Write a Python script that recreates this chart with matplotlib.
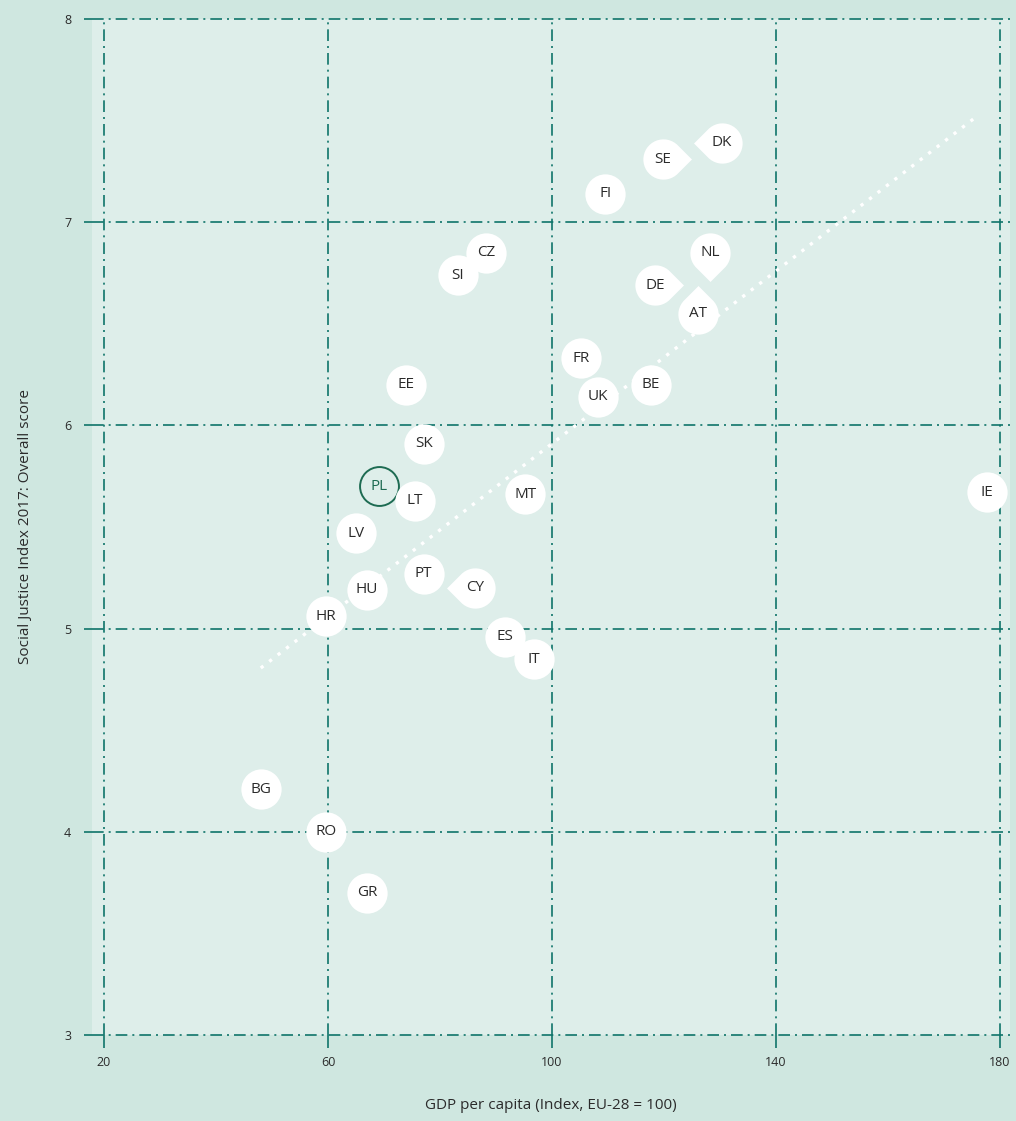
import matplotlib.pyplot as plt
import numpy as np
from matplotlib.path import Path
from matplotlib.markers import MarkerStyle

# -----------------------------
# Data
# -----------------------------
countries = ["DK", "SE", "FI", "CZ", "SI", "NL", "DE", "AT", "FR", "UK", "BE",
             "EE", "SK", "PL", "LT", "MT", "IE", "LV", "PT", "CY", "HU", "HR",
             "ES", "IT", "BG", "RO", "GR"]
gdp = [130.4, 119.8, 109.5, 88.2, 83.2, 128.2, 118.4, 126.1, 105.2, 108.2, 117.7,
       73.9, 77.1, 69.1, 75.5, 95.2, 177.7, 65.0, 77.1, 86.3, 67.0, 59.6,
       91.6, 96.8, 48.0, 59.6, 67.0]
sji = [7.39, 7.31, 7.14, 6.85, 6.74, 6.85, 6.69, 6.55, 6.33, 6.14, 6.20,
       6.20, 5.91, 5.70, 5.63, 5.66, 5.67, 5.47, 5.27, 5.20, 5.19, 5.06,
       4.96, 4.85, 4.21, 4.00, 3.70]
# label bubble pointer direction ('' = plain circle)
pointer = ["<", ">", "", "", "", "v", ">", "^", "", "", "",
           "", "", "", "", "", "", "", "", "<", "", "",
           "", "", "", "", ""]
highlight = "PL"

# trend line end points
trend_x = [48.0, 175.5]
trend_y = [4.806, 7.513]

x_ticks = [20, 60, 100, 140, 180]
y_ticks = [3, 4, 5, 6, 7, 8]

# -----------------------------
# Styles
# -----------------------------
bg_outer = "#cfe7e0"
bg_inner = "#deeeea"
grid_col = "#0f746a"
text_col = "#2b2b2b"
pl_col = "#1d6b52"
plt.rcParams['font.family'] = ['Open Sans', 'DejaVu Sans']


def teardrop(direction):
    # circle with a pointed corner, tip pointing right, then rotated
    tip = np.sqrt(2)
    arc = Path.arc(45, 315)
    verts = [(tip, 0.0)] + list(arc.vertices) + [(tip, 0.0), (tip, 0.0)]
    codes = [Path.MOVETO, Path.LINETO] + list(arc.codes[1:]) + [Path.LINETO, Path.CLOSEPOLY]
    path = Path(verts, codes)
    rot = {">": 0, "^": 90, "<": 180, "v": 270}[direction]
    return MarkerStyle(path).rotated(deg=rot)


fig = plt.figure(figsize=(10.16, 11.21), dpi=100, facecolor=bg_outer)
ax = fig.add_axes([92 / 1016, 86 / 1121, 918 / 1016, 1016 / 1121])
ax.set_facecolor(bg_inner)

ax.set_xlim(17.86, 181.8)
ax.set_ylim(3, 8)
ax.set_xticks(x_ticks)
ax.set_yticks(y_ticks)
for s in ax.spines.values():
    s.set_visible(False)

ax.grid(True, color=grid_col, linewidth=1.2, linestyle=(0, (7, 3, 1.2, 3)), zorder=1)
for gl in ax.get_xgridlines() + ax.get_ygridlines():
    gl.set_clip_on(False)
ax.set_axisbelow(True)
ax.tick_params(width=1.2, color=grid_col, labelsize=9, labelcolor=text_col)
ax.tick_params(axis='x', length=9, pad=6)
ax.tick_params(axis='y', length=6, pad=9)

# trend line
ax.plot(trend_x, trend_y, color="white", linewidth=2.4, linestyle=(0, (1, 2.2)),
        zorder=2)

# bubbles
msize = 29
for name, x, y, p in zip(countries, gdp, sji, pointer):
    if name == highlight:
        ax.plot(x, y, marker='o', markersize=msize - 1, markerfacecolor=bg_inner,
                markeredgecolor=pl_col, markeredgewidth=1.4, zorder=3)
        ax.text(x, y, name, ha='center', va='center', fontsize=11,
                color=pl_col, zorder=4)
        continue
    if p:
        ax.plot(x, y, marker=teardrop(p), markersize=msize * np.sqrt(2),
                markerfacecolor="white", markeredgewidth=0, zorder=3)
    else:
        ax.plot(x, y, marker='o', markersize=msize, markerfacecolor="white",
                markeredgewidth=0, zorder=3)
    ax.text(x, y, name, ha='center', va='center', fontsize=11,
            color=text_col, zorder=4)

ax.set_xlabel("GDP per capita (Index, EU-28 = 100)", fontsize=11,
              color=text_col, labelpad=21)
ax.set_ylabel("Social Justice Index 2017: Overall score", fontsize=11,
              color=text_col, labelpad=22)

fig.savefig("out.png", dpi=100, facecolor=bg_outer)
